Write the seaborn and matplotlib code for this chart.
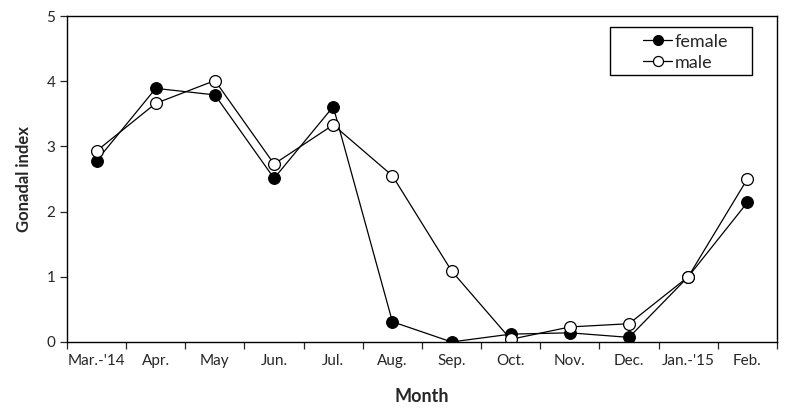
import numpy as np
import pandas as pd
import seaborn as sns
import matplotlib.pyplot as plt
from matplotlib.patches import Rectangle

months = ["Mar.-'14", "Apr.", "May", "Jun.", "Jul.", "Aug.", "Sep.",
          "Oct.", "Nov.", "Dec.", "Jan.-'15", "Feb."]
female = [2.78, 3.89, 3.79, 2.51, 3.61, 0.31, 0.0, 0.12, 0.14, 0.07, 1.0, 2.14]
male = [2.93, 3.66, 4.01, 2.73, 3.33, 2.55, 1.09, 0.04, 0.23, 0.28, 1.0, 2.5]

sns.set_style("ticks")
plt.rcParams["font.family"] = ["Lato", "DejaVu Sans"]

fig = plt.figure(figsize=(7.92, 4.16), dpi=100)
ax = fig.add_axes([0.0846, 0.178, 0.8964, 0.7835])

x = np.arange(len(months))
sns.lineplot(x=x, y=female, ax=ax, color="black", lw=0.9, marker="o",
             markersize=8.5, markerfacecolor="black", markeredgecolor="black",
             label="female")
sns.lineplot(x=x, y=male, ax=ax, color="black", lw=0.9, marker="o",
             markersize=8.5, markerfacecolor="white", markeredgecolor="black",
             markeredgewidth=0.9, label="male")

ax.set_xlim(-0.5, len(months) - 0.5)
ax.set_ylim(0, 5)
ax.set_xticks(x)
ax.set_xticklabels(months, fontsize=11)
ax.set_xticks(np.arange(-0.5, len(months)), minor=True)
ax.tick_params(axis="x", which="major", length=0, pad=9)
ax.tick_params(axis="x", which="minor", length=5, direction="out", width=0.9)
ax.set_yticks(range(6))
ax.tick_params(axis="y", labelsize=11, length=5, direction="out", width=0.9)

for s in ax.spines.values():
    s.set_visible(True)
    s.set_color("black")
    s.set_linewidth(1.0)

ax.set_xlabel("Month", fontsize=13, fontweight="bold", labelpad=14)
ax.set_ylabel("Gonadal index", fontsize=12, fontweight="bold", labelpad=10)

# legend box drawn separately (wide padding as in the original)
ax.add_patch(Rectangle((0.765, 0.819), 0.2, 0.147, transform=ax.transAxes,
                       facecolor="white", edgecolor="black", lw=1.0, zorder=5))
leg = ax.legend(loc="upper left", bbox_to_anchor=(0.794, 0.985), fontsize=13,
                frameon=False, handlelength=1.6, handletextpad=0.15,
                borderpad=0.2, labelspacing=0.28, markerscale=0.85)
leg.set_zorder(6)

fig.savefig("out.png", dpi=100)
